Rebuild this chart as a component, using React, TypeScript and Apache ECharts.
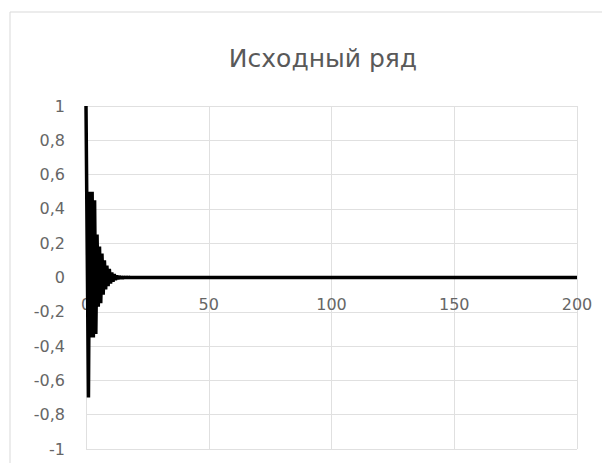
import React, { useEffect, useRef } from "react";
import * as echarts from "echarts";

const titleText = "Исходный ряд";
const xValues = [0, 1, 1.5, 2, 2.5, 3, 3.5, 4, 4.5, 5, 5.5, 6, 6.5, 7, 7.5, 8, 8.5, 9, 9.5, 10, 10.5, 11, 11.5, 12, 12.5, 13, 13.5, 14, 14.5, 15, 15.5, 16, 16.5, 17, 17.5, 18, 200];
const yValues = [1, -0.7, 0.5, -0.35, 0.5, -0.35, 0.45, -0.33, 0.25, -0.17, 0.18, -0.15, 0.14, -0.1, 0.1, -0.07, 0.07, -0.05, 0.05, -0.035, 0.03, -0.025, 0.02, -0.015, 0.012, -0.01, 0.008, -0.006, 0.005, -0.004, 0.003, -0.002, 0.002, -0.001, 0.001, 0, 0];
const yTicks = { min: -1, max: 1, interval: 0.2 };
const xTicks = { min: 0, max: 200, interval: 50 };

export default function App() {
  const ref = useRef<HTMLDivElement>(null);
  useEffect(() => {
    if (!ref.current) return;
    const chart = echarts.init(ref.current, null, { renderer: "svg" });
    const fmt = (v: number) => {
      const r = Math.round(v * 10) / 10;
      if (Number.isInteger(r)) return String(r);
      return r.toFixed(1).replace(".", ",");
    };
    const labelFont = { color: "#666666", fontSize: 16, fontFamily: "DejaVu Sans" };
    chart.setOption({
      animation: false,
      backgroundColor: "#ffffff",
      title: {
        text: titleText,
        left: 318,
        top: 41,
        textAlign: "center",
        textStyle: { fontFamily: "DejaVu Sans", fontSize: 25, fontWeight: "normal", color: "#595959" },
      },
      graphic: [
        {
          type: "rect",
          shape: { x: 10, y: 12, width: 640, height: 500 },
          style: { fill: "none", stroke: "#d9d9d9", lineWidth: 1 },
          silent: true,
          z: -1,
        },
      ],
      grid: { left: 86, right: 33, top: 106, bottom: 22, outerBoundsMode: "none", containLabel: false },
      xAxis: {
        type: "value",
        min: xTicks.min,
        max: xTicks.max,
        interval: xTicks.interval,
        axisLine: { show: false, onZero: false },
        axisTick: { show: false },
        axisLabel: { ...labelFont, margin: -153 },
        splitLine: { show: true, lineStyle: { color: "#e0e0e0", width: 1 } },
      },
      yAxis: {
        type: "value",
        min: yTicks.min,
        max: yTicks.max,
        interval: yTicks.interval,
        axisLine: { show: false, onZero: false },
        axisTick: { show: false },
        axisLabel: { ...labelFont, margin: 21, formatter: fmt },
        splitLine: { show: true, lineStyle: { color: "#e0e0e0", width: 1 } },
      },
      series: [
        {
          type: "line",
          data: xValues.map((x, i) => [x, yValues[i]]),
          showSymbol: false,
          lineStyle: { color: "#000000", width: 3.5 },
          itemStyle: { color: "#000000" },
        },
      ],
    });
    return () => chart.dispose();
  }, []);
  return <div ref={ref} style={{ width: 610, height: 471, margin: -8 }} />;
}
